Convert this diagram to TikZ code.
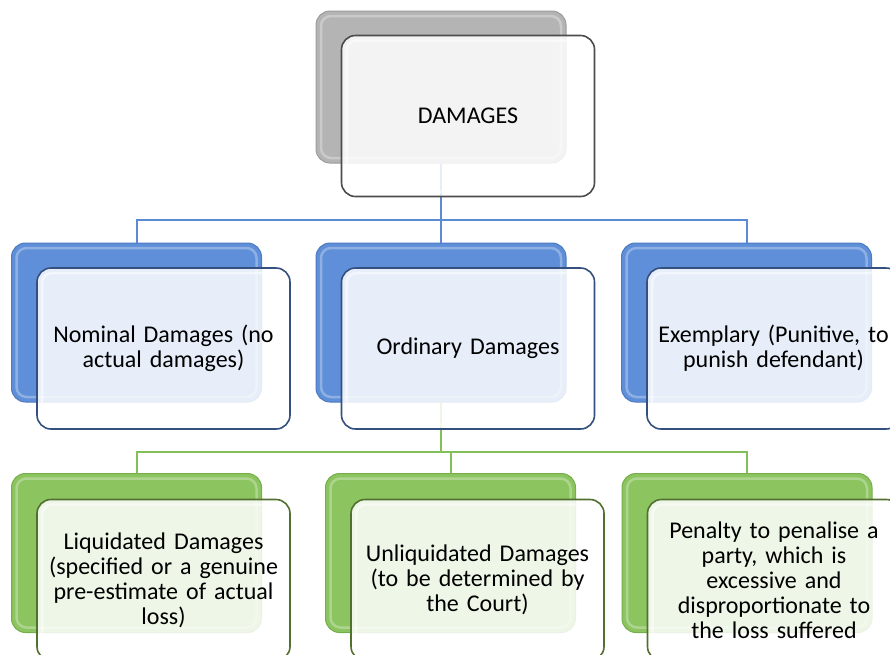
\documentclass[tikz,border=0pt]{standalone}
\usepackage{fontspec}
\setmainfont{Carlito}
\usepackage{xcolor}
\usetikzlibrary{positioning,backgrounds}
\definecolor{grayback}{HTML}{B4B4B4}
\definecolor{grayedge}{HTML}{9C9C9C}
\definecolor{blueback}{HTML}{5F8FD8}
\definecolor{blueedge}{HTML}{4C7BC2}
\definecolor{greenback}{HTML}{8CC460}
\definecolor{greenedge}{HTML}{76AE4C}
\definecolor{blueline}{HTML}{5B8BD2}
\definecolor{greenline}{HTML}{84C05A}
\definecolor{bluerim}{HTML}{34507E}
\definecolor{greenrim}{HTML}{52702F}

\begin{document}
\begin{tikzpicture}[x=1pt,y={(0pt,-1pt)},
  bevel/.style={path picture={\draw[white,opacity=#1,line width=2.5pt,rounded corners=10pt]
    ([shift={(5,5)}]path picture bounding box.north west) rectangle ([shift={(-5,-5)}]path picture bounding box.south east);}},
  backbox/.style={rectangle,rounded corners=14pt,minimum width=250pt,minimum height=159pt,inner sep=0pt,line width=1pt,bevel=.3},
  frontbox/.style={rectangle,rounded corners=14pt,minimum width=253pt,minimum height=161pt,text width=232pt,align=center,inner sep=0pt,
    fill=white,fill opacity=.85,text opacity=1,line width=1.6pt,font=\fontsize{24}{25}\selectfont,bevel=.5},
  link/.style={line width=2pt}]
\useasboundingbox (0,0) rectangle (890,654);
% top level
\node[backbox,fill=grayback,draw=grayedge,minimum height=152pt] (top) at (441,87) {};
\node[frontbox,draw=black!70] (topf) at ([shift={(27,29)}]top.center) {DAMAGES};
% second level
\node[backbox,fill=blueback,draw=blueedge] (nom) at (136.5,322.5) {};
\node[backbox,fill=blueback,draw=blueedge] (ord) at (441,322.5) {};
\node[backbox,fill=blueback,draw=blueedge] (exe) at (746.5,322.5) {};
\node[frontbox,draw=bluerim] (nomf) at ([shift={(27,26)}]nom.center) {Nominal Damages (no\\actual damages)};
\node[frontbox,draw=bluerim] (ordf) at ([shift={(27,26)}]ord.center) {Ordinary Damages};
\node[frontbox,draw=bluerim] (exef) at ([shift={(27,26)}]exe.center) {Exemplary (Punitive, to\\punish defendant)};
% third level
\node[backbox,fill=greenback,draw=greenedge] (liq) at (136.5,553) {};
\node[backbox,fill=greenback,draw=greenedge] (unl) at (450.5,553) {};
\node[backbox,fill=greenback,draw=greenedge] (pen) at (747,553) {};
\node[frontbox,draw=greenrim] (liqf) at ([shift={(27,27)}]liq.center) {Liquidated Damages\\(specified or a genuine\\pre-estimate of actual\\loss)};
\node[frontbox,draw=greenrim] (unlf) at ([shift={(27,27)}]unl.center) {Unliquidated Damages\\(to be determined by\\the Court)};
\node[frontbox,draw=greenrim] (penf) at ([shift={(27,27)}]pen.center) {Penalty to penalise a\\party, which is\\excessive and\\disproportionate to\\the loss suffered};
% connectors
\begin{scope}[on background layer]
\coordinate (bus1) at (441,220);
\coordinate (bus2) at (441,452);
\draw[link,blueline] (top.south) -- (bus1) -| (nom.north);
\draw[link,blueline] (bus1) -- (ord.north);
\draw[link,blueline] (bus1) -| (exe.north);
\draw[link,greenline] (ord.south) -- (bus2) -| (liq.north);
\draw[link,greenline] (bus2) -| (unl.north);
\draw[link,greenline] (bus2) -| (pen.north);
\end{scope}
\end{tikzpicture}
\end{document}
